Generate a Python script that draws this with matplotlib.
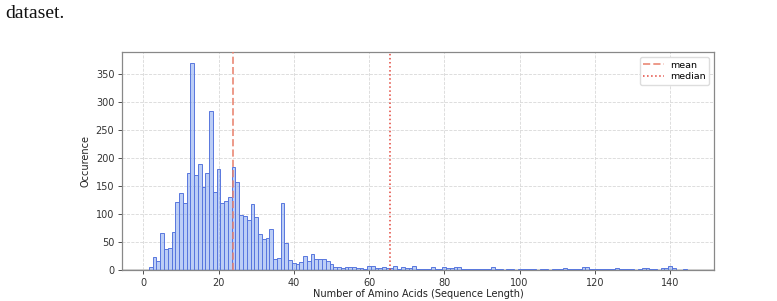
import numpy as np
import matplotlib.pyplot as plt
from matplotlib.lines import Line2D

# sequence lengths (2..145) and how often each occurs
lengths = np.arange(2, 146)
counts = [
    5, 24, 16, 66, 37, 40, 67, 122, 137, 120, 174, 369, 170, 189, 148, 173,
    284, 140, 180, 120, 124, 131, 184, 157, 98, 96, 90, 117, 94, 64, 55, 57,
    74, 20, 21, 119, 48, 18, 12, 10, 14, 25, 16, 29, 20, 19, 20, 16, 10, 5,
    5, 3, 5, 5, 6, 3, 3, 2, 7, 7, 4, 3, 5, 3, 3, 7, 1, 5, 3, 3, 8, 2, 2, 2,
    2, 5, 2, 1, 6, 4, 4, 5, 5, 2, 1, 1, 1, 1, 1, 1, 1, 5, 2, 2, 0, 1, 1, 0,
    1, 2, 2, 2, 2, 0, 1, 1, 0, 1, 1, 1, 3, 1, 1, 1, 1, 5, 5, 2, 1, 1, 1, 1,
    1, 1, 3, 1, 1, 1, 1, 0, 1, 3, 3, 2, 1, 0, 3, 3, 7, 3, 0, 0, 1, 0,
]
mean_len = 23.9
median_len = 65.7

xticks = [0, 20, 40, 60, 80, 100, 120, 140]
yticks = [0, 50, 100, 150, 200, 250, 300, 350]

fig = plt.figure(figsize=(7.77, 3.01), dpi=100)
ax = fig.add_axes([0.157, 0.103, 0.762, 0.724])

ax.bar(lengths, counts, width=1.0,
       facecolor=(0.45, 0.6, 0.93, 0.48), edgecolor="#5877de", linewidth=0.7,
       zorder=3)
ax.axhline(0, color="#cfcfcf", lw=1.2, zorder=2)

ax.axvline(mean_len, color="#e8806c", ls="--", lw=1.4, alpha=0.8, zorder=4)
ax.axvline(median_len, color="#e2453a", ls=":", lw=1.1, zorder=4)

ax.set_xlim(-5.66, 151.7)
ax.set_ylim(0, 389)
ax.set_xticks(xticks)
ax.set_yticks(yticks)
ax.grid(True, ls="--", lw=0.6, color="#d8d8d8", zorder=0)

ax.tick_params(labelsize=7, colors="#333333", length=3, width=0.6, pad=2.5)
for s in ax.spines.values():
    s.set_color("#888888")
    s.set_linewidth(0.9)

ax.set_xlabel("Number of Amino Acids (Sequence Length)", fontsize=7, color="#222222", labelpad=1)
ax.set_ylabel("Occurence", fontsize=7, color="#222222", labelpad=4)

handles = [
    Line2D([], [], color="#e8806c", ls="--", lw=1.4, alpha=0.8, label="mean"),
    Line2D([], [], color="#e2453a", ls=":", lw=1.1, label="median"),
]
ax.legend(handles=handles, loc="upper right", fontsize=6.8, framealpha=1,
          edgecolor="#dddddd", handlelength=2.2, borderpad=0.4,
          labelspacing=0.3, handletextpad=0.6)

# caption fragment from the surrounding page
fig.text(0.007, 0.985, "dataset.", family="Liberation Serif", fontsize=14,
         va="top", ha="left", color="#111111")

fig.savefig("out.png", dpi=100)
